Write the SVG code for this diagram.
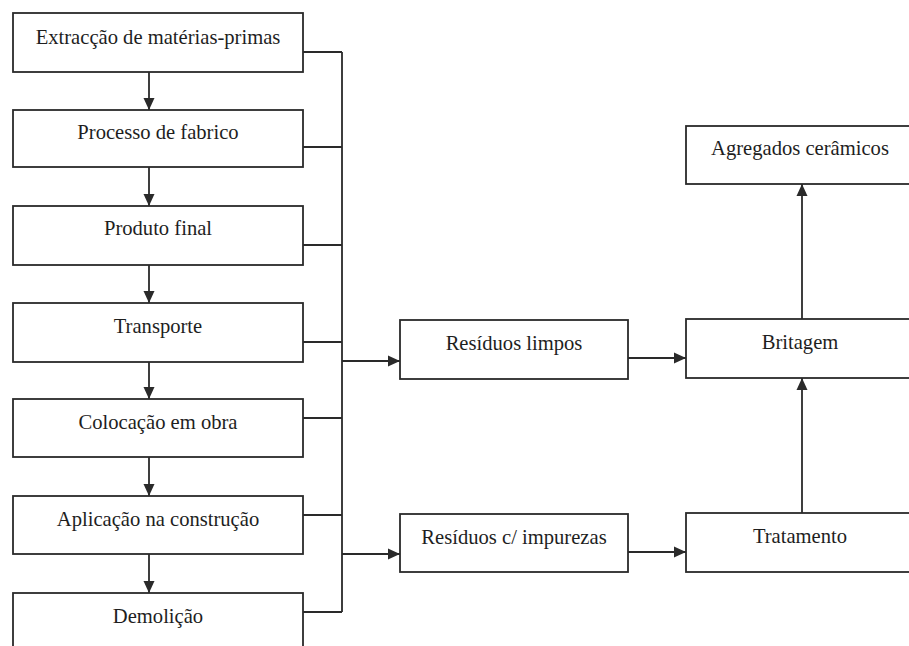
<svg xmlns="http://www.w3.org/2000/svg" width="909" height="646" viewBox="0 0 909 646">
<style>
.box{fill:#fff;stroke:#2a2a2a;stroke-width:1.8}
.lbl{font-family:"Liberation Serif","Times New Roman",serif;font-size:20.6px;fill:#1e1e1e;text-anchor:middle}
.ln{fill:none;stroke:#2a2a2a;stroke-width:1.8}
</style>
<defs>
<marker id="ah" markerWidth="12" markerHeight="12" viewBox="0 0 12 12" refX="12" refY="6" orient="auto" markerUnits="userSpaceOnUse">
<path d="M0,0.5 L12,6 L0,11.5 Z" fill="#2a2a2a"/>
</marker>
</defs>
<rect width="909" height="646" fill="#fff"/>
<g id="connectors">
<path class="ln" d="M149,72 V110" marker-end="url(#ah)"/>
<path class="ln" d="M149,167 V206" marker-end="url(#ah)"/>
<path class="ln" d="M149,265 V303" marker-end="url(#ah)"/>
<path class="ln" d="M149,362 V399" marker-end="url(#ah)"/>
<path class="ln" d="M149,457 V496" marker-end="url(#ah)"/>
<path class="ln" d="M149,554 V593" marker-end="url(#ah)"/>
<path class="ln" d="M303,52 H342 M303,147 H342 M303,245 H342 M303,342 H342 M303,418 H342 M303,515 H342 M303,612 H342 M342,52 V612"/>
<path class="ln" d="M342,361 H400" marker-end="url(#ah)"/>
<path class="ln" d="M342,554 H400" marker-end="url(#ah)"/>
<path class="ln" d="M628,358 H686" marker-end="url(#ah)"/>
<path class="ln" d="M628,552 H686" marker-end="url(#ah)"/>
<path class="ln" d="M802,319 V184" marker-end="url(#ah)"/>
<path class="ln" d="M802,513 V378" marker-end="url(#ah)"/>
</g>
<g id="n1"><rect class="box" x="13" y="13" width="290" height="59"/><text class="lbl" x="158" y="44">Extracção de matérias-primas</text></g>
<g id="n2"><rect class="box" x="13" y="110" width="290" height="57"/><text class="lbl" x="158" y="139">Processo de fabrico</text></g>
<g id="n3"><rect class="box" x="13" y="206" width="290" height="59"/><text class="lbl" x="158" y="235">Produto final</text></g>
<g id="n4"><rect class="box" x="13" y="303" width="290" height="59"/><text class="lbl" x="158" y="333">Transporte</text></g>
<g id="n5"><rect class="box" x="13" y="399" width="290" height="58"/><text class="lbl" x="158" y="429">Colocação em obra</text></g>
<g id="n6"><rect class="box" x="13" y="496" width="290" height="58"/><text class="lbl" x="158" y="526">Aplicação na construção</text></g>
<g id="n7"><rect class="box" x="13" y="593" width="290" height="70"/><text class="lbl" x="158" y="623">Demolição</text></g>
<g id="n8"><rect class="box" x="400" y="320" width="228" height="59"/><text class="lbl" x="514" y="350">Resíduos limpos</text></g>
<g id="n9"><rect class="box" x="400" y="514" width="228" height="58"/><text class="lbl" x="514" y="544">Resíduos c/ impurezas</text></g>
<g id="n10"><rect class="box" x="686" y="126" width="230" height="58"/><text class="lbl" x="800" y="155">Agregados cerâmicos</text></g>
<g id="n11"><rect class="box" x="686" y="319" width="230" height="59"/><text class="lbl" x="800" y="349">Britagem</text></g>
<g id="n12"><rect class="box" x="686" y="513" width="230" height="59"/><text class="lbl" x="800" y="543">Tratamento</text></g>
</svg>
